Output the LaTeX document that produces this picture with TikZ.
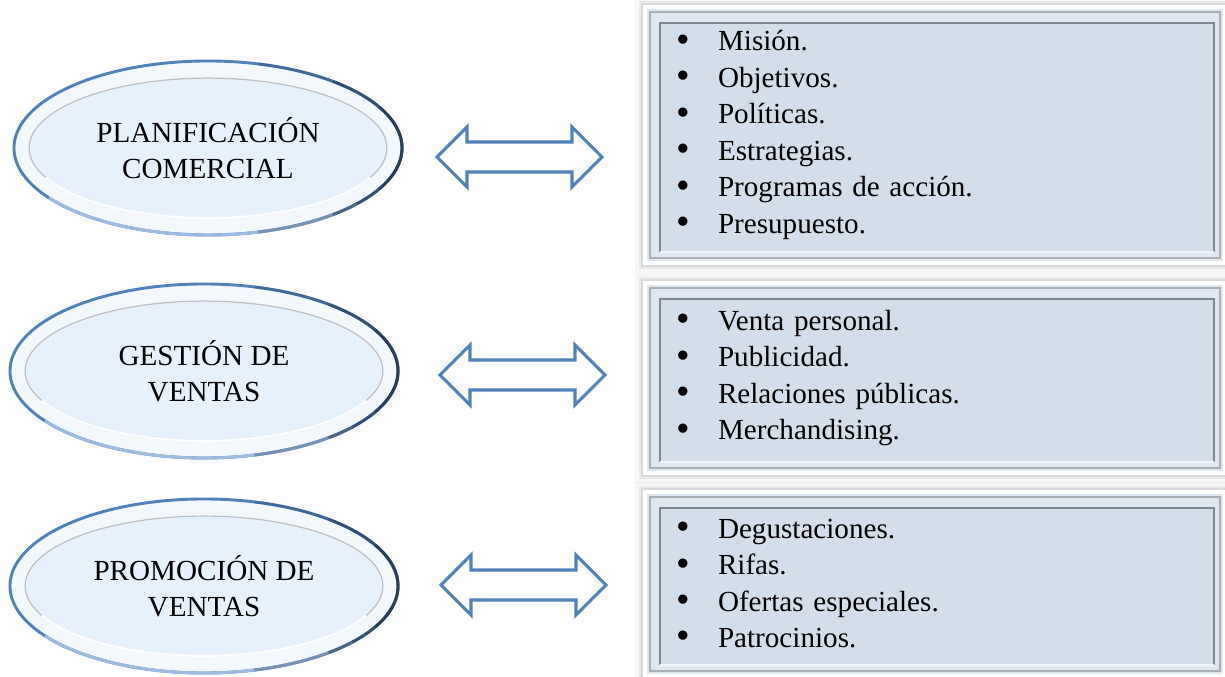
\documentclass[tikz,border=0pt]{standalone}
\usepackage{fontspec}
\setmainfont{Liberation Serif}
\usepackage{tikz}
\usetikzlibrary{shapes.geometric}

\definecolor{rimblue}{HTML}{4F81BD}
\definecolor{rimdark}{HTML}{1F3350}
\definecolor{rimlight}{HTML}{9DBBE0}
\definecolor{ringfill}{HTML}{F3F8FD}
\definecolor{corefill}{HTML}{E7F1FC}
\definecolor{boxband}{HTML}{DFE7F1}
\definecolor{boxfill}{HTML}{D4DEEA}
\definecolor{bevdark}{HTML}{7E8893}
\definecolor{bevlight}{HTML}{EEF4FC}

\newcommand\itm{\makebox[17.3pt][l]{\raisebox{-0.6pt}{\fontsize{16}{15}\selectfont\textbullet}}}

\begin{document}
\begin{tikzpicture}[
  x=0.412pt, y=-0.412pt,
  font=\fontsize{12}{15}\selectfont,
  topic/.style={ellipse, draw=rimblue, line width=1.2pt, fill=ringfill, align=center,
    minimum width=159.9pt, minimum height=71.7pt, inner sep=0pt,
    path picture={
      \draw[fill=corefill, draw=gray!50, line width=0.5pt] (path picture bounding box.center) ellipse [x radius=73.7pt, y radius=28.8pt];
    }},
  rimshade/.style={rimdark, line width=1.2pt},
  pics/twoway/.style={code={
    \draw[rimblue, fill=white, line width=1.25pt, line join=miter]
      (-82.5,0) -- (-52.5,-30) -- (-52.5,-15) -- (52.5,-15) -- (52.5,-30) -- (82.5,0)
      -- (52.5,30) -- (52.5,15) -- (-52.5,15) -- (-52.5,30) -- cycle;
  }},
  itembox/.style={rectangle, draw=white, line width=1.6pt, fill=boxband, align=left,
    text width=213.4pt, inner xsep=12.8pt, inner ysep=0pt,
    preaction={draw=black, draw opacity=.03, line width=8pt},
    preaction={draw=black, draw opacity=.05, line width=5pt},
    preaction={draw=black, draw opacity=.07, line width=3pt},
    path picture={
      \fill[boxfill] ([shift={(15,16)}]path picture bounding box.north west) rectangle ([shift={(-11,-11)}]path picture bounding box.south east);
      \draw[gray!55!boxband, line width=0.6pt] ([shift={(5,5)}]path picture bounding box.north west) rectangle ([shift={(-5,-5)}]path picture bounding box.south east);
      \draw[bevdark, line width=1pt] ([shift={(15,-11)}]path picture bounding box.south west) |- ([shift={(-11,16)}]path picture bounding box.north east) -- ([shift={(-11,-11)}]path picture bounding box.south east);
      \draw[bevlight, line width=1pt] ([shift={(15,-11)}]path picture bounding box.south west) -- ([shift={(-11,-11)}]path picture bounding box.south east);
    }}
]
\useasboundingbox[fill=white] (0,0) rectangle (1225,677);

\node[topic] (e1) at (208,148) {PLANIFICACIÓN\\COMERCIAL};
\node[topic] (e2) at (204,371) {GESTIÓN DE\\VENTAS};
\node[topic] (e3) at (204,586) {PROMOCIÓN DE\\VENTAS};

\foreach \e in {e1,e2,e3} {
  \draw[white, line width=0.8pt, shift={(\e.center)}] (205:73.7pt and 28.8pt) arc[start angle=205, end angle=335, x radius=73.7pt, y radius=28.8pt];
  \draw[rimlight, line width=1.2pt, shift={(\e.center)}] (215:79.95pt and 35.85pt) arc[start angle=215, end angle=320, x radius=79.95pt, y radius=35.85pt];
  \draw[rimshade, opacity=.3, shift={(\e.center)}] (-75:79.95pt and 35.85pt) arc[start angle=-75, end angle=75, x radius=79.95pt, y radius=35.85pt];
  \draw[rimshade, opacity=.45, shift={(\e.center)}] (-50:79.95pt and 35.85pt) arc[start angle=-50, end angle=50, x radius=79.95pt, y radius=35.85pt];
  \draw[rimshade, opacity=.65, shift={(\e.center)}] (-28:79.95pt and 35.85pt) arc[start angle=-28, end angle=28, x radius=79.95pt, y radius=35.85pt];
}

\pic (a1) at (519.5,157) {twoway};
\pic (a2) at (522.5,375) {twoway};
\pic (a3) at (523.5,585) {twoway};

\node[itembox, minimum height=105.5pt] (l1) at (935,135) {%
  \itm Misión.\\
  \itm Objetivos.\\
  \itm Políticas.\\
  \itm Estrategias.\\
  \itm Programas de acción.\\
  \itm Presupuesto.};
\node[itembox, minimum height=78.3pt] (l2) at (935,378) {%
  \itm Venta personal.\\
  \itm Publicidad.\\
  \itm Relaciones públicas.\\
  \itm Merchandising.};
\node[itembox, minimum height=75.8pt] (l3) at (935,584) {%
  \itm Degustaciones.\\
  \itm Rifas.\\
  \itm Ofertas especiales.\\
  \itm Patrocinios.};
\end{tikzpicture}
\end{document}
